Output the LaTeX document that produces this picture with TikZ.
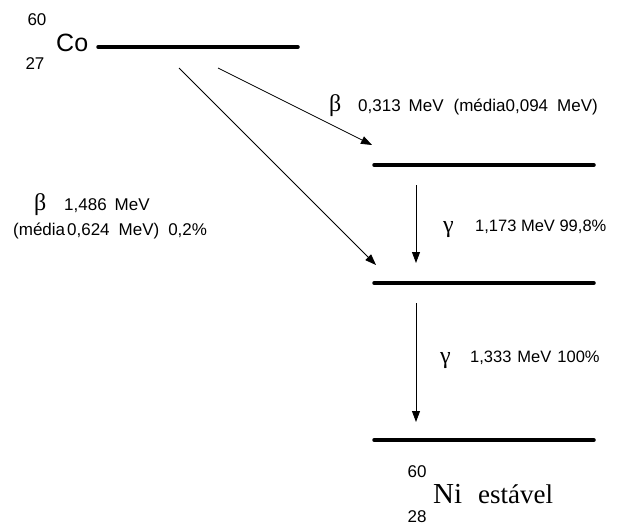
\documentclass[tikz,border=0pt]{standalone}
\usepackage{fontspec}
\setmainfont{Liberation Sans}
\newfontfamily\serifgr{Liberation Serif}
\usetikzlibrary{arrows.meta}
\begin{document}
\begin{tikzpicture}[x=1pt,y=-1pt,
  level/.style={line width=3.5pt,line cap=round},
  trans/.style={line width=0.8pt,-{Triangle[length=11pt,width=8pt]}},
  lbl/.style={inner sep=0pt,font=\fontsize{17}{19}\selectfont},
  glbl/.style={inner sep=0pt,font=\fontsize{16.5}{19}\selectfont},
  iso/.style={inner sep=0pt,font=\fontsize{17}{18}\selectfont},
  gr/.style={inner sep=0pt,font=\serifgr\fontsize{24}{24}\selectfont}]
\useasboundingbox (0,0) rectangle (635,525);
% levels
\coordinate (coA) at (98,47);  \coordinate (coB) at (298,47);
\coordinate (l2A) at (374,165); \coordinate (l2B) at (594,165);
\coordinate (l3A) at (374,283); \coordinate (l3B) at (594,283);
\coordinate (l4A) at (374,440); \coordinate (l4B) at (594,440);
\draw[level] (coA) -- (coB);
\draw[level] (l2A) -- (l2B);
\draw[level] (l3A) -- (l3B);
\draw[level] (l4A) -- (l4B);
% transitions
\coordinate (b1s) at (218,68);  \coordinate (b1e) at (372,145);
\coordinate (b2s) at (179,68);  \coordinate (b2e) at (376,265);
\coordinate (g1s) at (416,185); \coordinate (g1e) at (416,263);
\coordinate (g2s) at (416,303); \coordinate (g2e) at (416,422);
\draw[trans] (b1s) -- (b1e);
\draw[trans] (b2s) -- (b2e);
\draw[trans] (g1s) -- (g1e);
\draw[trans] (g2s) -- (g2e);
% Co
\node[iso] (coA60) at (37,20) {60};
\node[inner sep=0pt,anchor=base west,font=\fontsize{25}{26}\selectfont] (coname) at (56,51) {Co};
\node[iso] (coZ) at (35,64) {27};
% beta labels
\node[gr,anchor=base west] (beta1) at (329,111) {β};
\node[lbl,anchor=base west] (b1t) at (358,111) {0,313\hspace{8pt}MeV\hspace{10pt}(média0,094\hspace{9pt}MeV)};
\node[gr,anchor=base west] (beta2) at (34,210) {β};
\node[lbl,anchor=base west] (b2t) at (64,210) {1,486\hspace{8pt}MeV};
\node[lbl,anchor=base west] (b2u) at (13,235) {(média\hspace{2pt}0,624\hspace{9pt}MeV)\hspace{9pt}0,2\%};
% gamma labels
\node[gr,anchor=base west] (gam1) at (443,232) {γ};
\node[glbl,anchor=base west] (g1t) at (475,231) {1,173 MeV 99,8\%};
\node[gr,anchor=base west] (gam2) at (440,363) {γ};
\node[glbl,anchor=base west] (g2t) at (470,362) {1,333\hspace{6pt}MeV\hspace{6pt}100\%};
% Ni
\node[iso] (niA) at (417,472) {60};
\node[inner sep=0pt,anchor=base west,font=\serifgr\fontsize{29}{30}\selectfont] (niname) at (433,503) {Ni};
\node[inner sep=0pt,anchor=base west,font=\serifgr\fontsize{27}{27}\selectfont] (nist) at (478,503) {estável};
\node[iso] (niZ) at (417,517) {28};
\end{tikzpicture}
\end{document}
